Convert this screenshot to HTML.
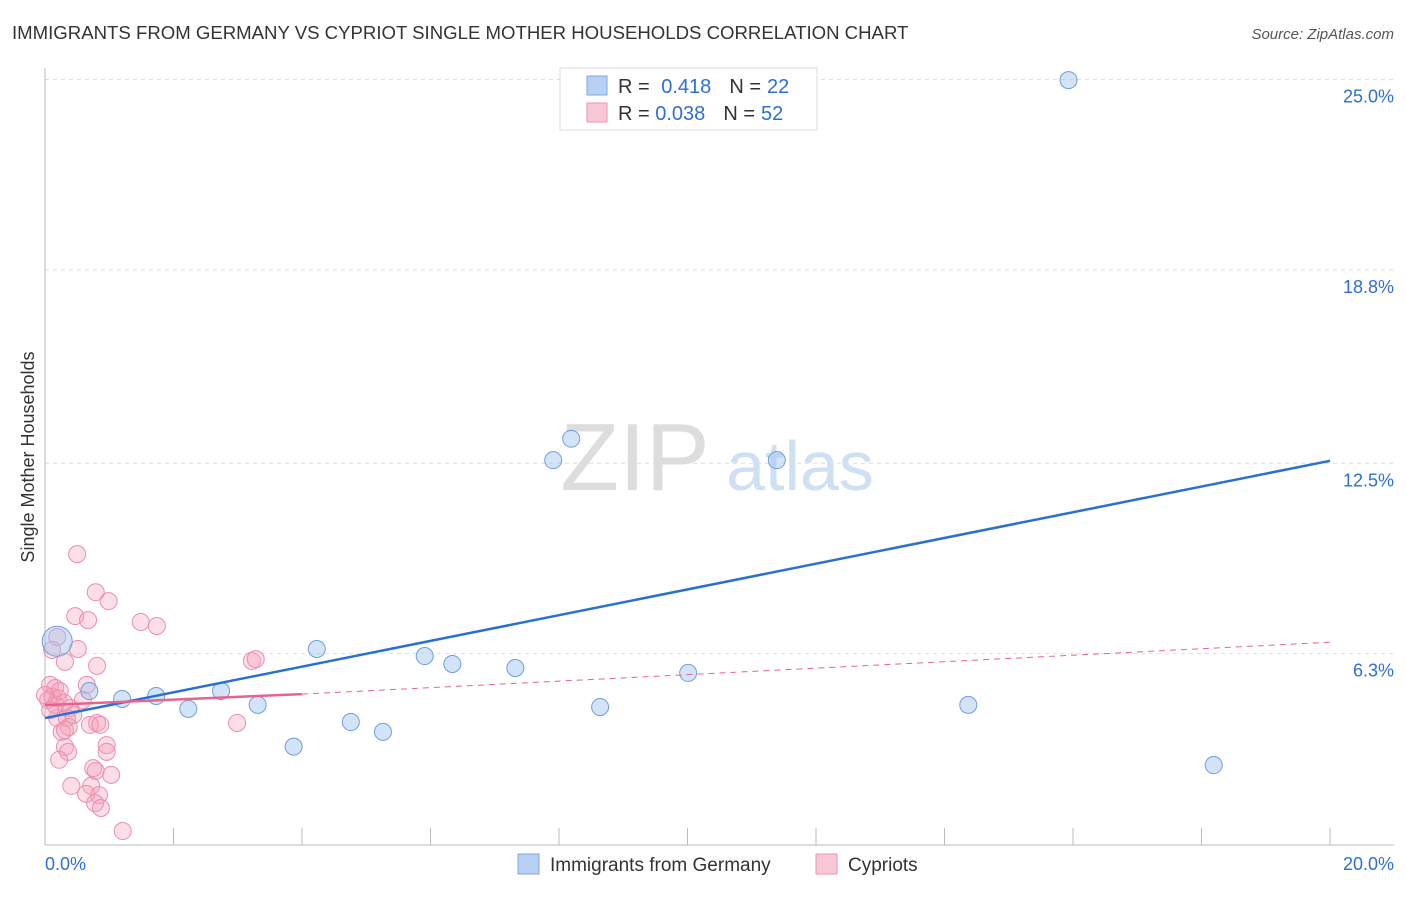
<!DOCTYPE html>
<html><head><meta charset="utf-8"><style>
body{margin:0;background:#fff;font-family:"Liberation Sans",sans-serif;}
svg text{font-family:"Liberation Sans",sans-serif;}
</style></head><body>
<svg id="chart" width="1406" height="892" xmlns="http://www.w3.org/2000/svg">
<text x="12" y="39" font-size="18.6" fill="#333">IMMIGRANTS FROM GERMANY VS CYPRIOT SINGLE MOTHER HOUSEHOLDS CORRELATION CHART</text>
<text x="1394" y="39" font-size="15" fill="#555" font-style="italic" text-anchor="end">Source: ZipAtlas.com</text>
<text x="34" y="457" font-size="18" fill="#333" transform="rotate(-90 34 457)" text-anchor="middle">Single Mother Households</text>
<text x="635" y="490" font-size="96" fill="#ddd" font-family="Liberation Serif" text-anchor="middle">ZIP</text>
<text x="800" y="490" font-size="70" fill="#cfe0f5" text-anchor="middle">atlas</text>
<g id="grid"></g><g id="axes"></g><g id="marks"></g>
<g>
<rect x="560" y="68" width="257" height="62" fill="#fff" stroke="#ddd"/>
<rect x="587" y="76" width="20" height="19" fill="#b8d0f3" stroke="#7fa7e0"/>
<rect x="587" y="103" width="20" height="19" fill="#f9c8d6" stroke="#ec93ad"/>
<text x="618" y="93" font-size="20" fill="#333">R = <tspan fill="#2f6fd0" dx="6">0.418</tspan><tspan fill="#333" dx="18">N =</tspan><tspan fill="#2f6fd0" dx="6">22</tspan></text>
<text x="618" y="120" font-size="20" fill="#333">R = <tspan fill="#2f6fd0">0.038</tspan><tspan fill="#333" dx="18">N =</tspan><tspan fill="#2f6fd0" dx="6">52</tspan></text>
</g>
<g>
<rect x="518" y="854" width="21" height="20" fill="#b8d0f3" stroke="#7fa7e0"/>
<text x="550" y="871" font-size="19" fill="#333">Immigrants from Germany</text>
<rect x="816" y="854" width="21" height="20" fill="#f9c8d6" stroke="#ec93ad"/>
<text x="848" y="871" font-size="19" fill="#333">Cypriots</text>
</g>
</svg>
<script>
const yTicks=[25.0,18.8,12.5,6.3];
const yTickLabels=["25.0%","18.8%","12.5%","6.3%"];
const xTickLabels=["0.0%","20.0%"];
const germanyX=[0.19,0.69,1.2,1.73,2.23,2.74,3.31,3.87,4.23,4.76,5.26,5.91,6.34,7.32,7.91,8.19,8.64,10.01,11.39,14.37,15.93,18.19];
const germanyY=[6.7,5.08,4.82,4.92,4.5,5.08,4.63,3.27,6.45,4.07,3.75,6.22,5.96,5.83,12.6,13.3,4.56,5.67,12.6,4.63,24.98,2.67];
const germanyR=[15,8.5,8.5,8.5,8.5,8.5,8.5,8.5,8.5,8.5,8.5,8.5,8.5,8.5,8.5,8.5,8.5,8.5,8.5,8.5,8.5,8.5];
const cypX=[0.5,0.79,0.99,0.47,0.67,1.49,1.74,0.19,0.51,0.11,0.31,0.81,3.22,3.28,0.08,0.16,0.65,0.11,0.2,0.3,0.39,0.19,0.34,0.44,0.81,0.7,0.37,0.26,0.31,0.36,0.96,0.96,0.22,0.79,0.75,1.03,0.41,0.72,0.84,0.64,0.78,0.87,1.21,2.99,0.31,0.05,0.08,0.16,0.23,0.86,0,0.59];
const cypY=[9.54,8.3,8.01,7.52,7.39,7.33,7.2,6.84,6.45,6.42,6.03,5.9,6.06,6.12,5.28,5.18,5.28,4.89,4.85,4.69,4.53,4.2,4.2,4.3,4.04,3.98,3.91,3.75,3.26,3.1,3.32,3.1,2.84,2.48,2.57,2.35,1.99,1.99,1.69,1.73,1.43,1.27,0.52,4.04,3.81,4.79,4.46,4.63,5.08,3.98,4.95,4.79];
const NS="http://www.w3.org/2000/svg";
const X0=45,X1=1330,YB=847,PX=30.7;
function sx(v){return X0+(v/20)*(X1-X0);}
function sy(v){return YB-v*PX;}
function mk(t,a,p){const e=document.createElementNS(NS,t);for(const k in a)e.setAttribute(k,a[k]);p.appendChild(e);return e;}
const grid=document.getElementById('grid'),axes=document.getElementById('axes'),marks=document.getElementById('marks');
yTicks.forEach((v,i)=>{
 const l=mk('line',{x1:X0,x2:1394,y1:sy(v),y2:sy(v),stroke:'#ddd','stroke-dasharray':'4,4'},grid);
 
 
 const t=mk('text',{x:1394,y:sy(v)+23,'font-size':18,fill:'#2f6fd0','text-anchor':'end'},grid);
 t.textContent=yTickLabels[i];
 
 
});
const ax=mk('line',{x1:X0,x2:1394,y1:845,y2:845,stroke:'#bbb'},axes);


const ay=mk('line',{x1:X0,x2:X0,y1:68,y2:845,stroke:'#bbb'},axes);


for(let i=1;i<=10;i++){
 const tk=mk('line',{x1:sx(i*2),x2:sx(i*2),y1:828,y2:845,stroke:'#bbb'},axes);
 
 
}
[[0,'start',45],[20,'end',1394]].forEach((d,i)=>{
 const t=mk('text',{x:d[2],y:870,'font-size':18,fill:'#2f6fd0','text-anchor':d[1]},axes);
 t.textContent=xTickLabels[i];
 
 
});
cypX.forEach((v,i)=>{
 const c=mk('circle',{cx:sx(v),cy:sy(cypY[i]),r:8.5,fill:'rgba(244,160,185,0.35)',stroke:'#ec8fab','stroke-width':1},marks);
 
 
});
germanyX.forEach((v,i)=>{
 const c=mk('circle',{cx:sx(v),cy:sy(germanyY[i]),r:germanyR[i],fill:'rgba(160,195,240,0.45)',stroke:'#6f9ee0','stroke-width':1},marks);
 
 
});
const bl=mk('line',{x1:sx(0),y1:sy(4.2),x2:sx(20),y2:sy(12.58),stroke:'#2a6fd6','stroke-width':2.5},marks);


const pl=mk('line',{x1:sx(0),y1:sy(4.62),x2:sx(4),y2:sy(4.98),stroke:'#e8638d','stroke-width':2.5},marks);


const pd=mk('line',{x1:sx(4),y1:sy(4.98),x2:sx(20),y2:sy(6.67),stroke:'#e8638d','stroke-width':1,'stroke-dasharray':'6,5'},marks);


</script>
</body></html>
